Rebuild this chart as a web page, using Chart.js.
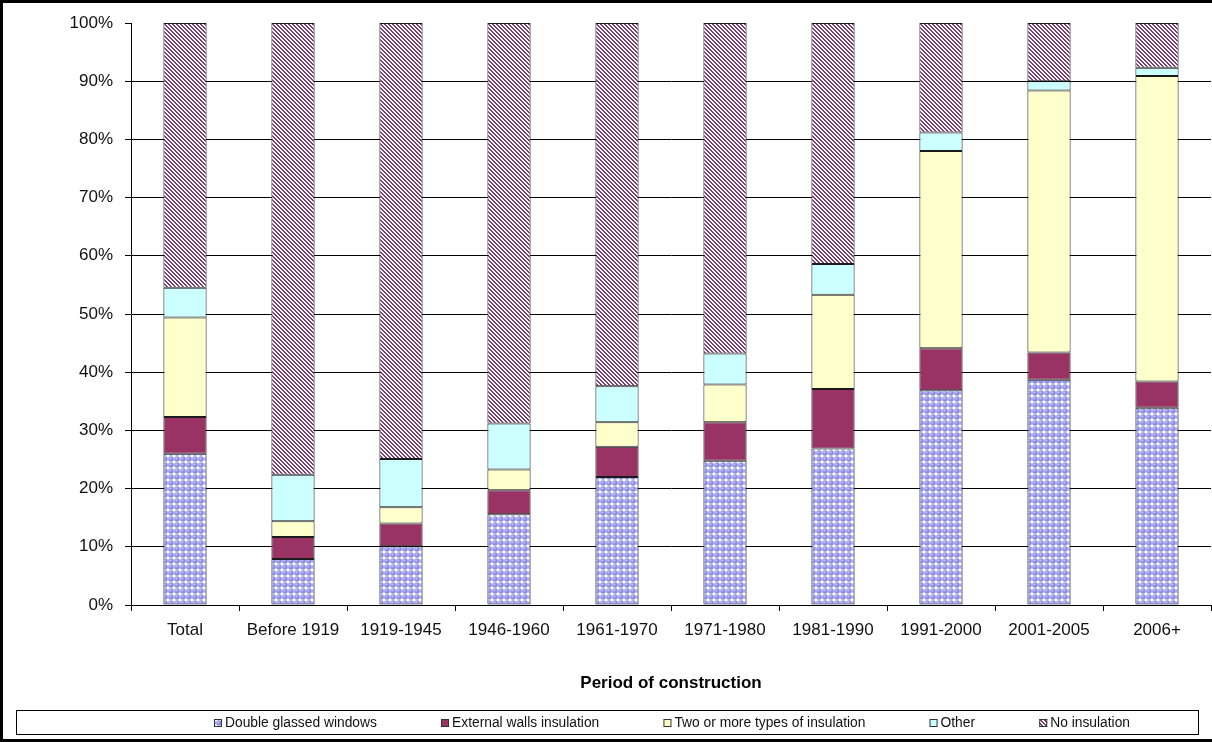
<!DOCTYPE html>
<html>
<head>
<meta charset="utf-8">
<script src="https://cdn.jsdelivr.net/npm/chart.js@4.4.1/dist/chart.umd.min.js"></script>
<style>
  html, body { margin: 0; padding: 0; background: #fff; }
  canvas { display: block; }
</style>
</head>
<body>
<canvas id="insulationChart" width="1212" height="742"></canvas>
<script>
// Period of construction vs. insulation type (% of dwellings)
const periods = ['Total', 'Before 1919', '1919-1945', '1946-1960', '1961-1970', '1971-1980', '1981-1990', '1991-2000', '2001-2005', '2006+'];
const doubleGlazed = [26.0, 7.9, 10.1, 15.6, 22.0, 24.8, 26.9, 36.9, 38.7, 33.9];
const externalWalls = [6.3, 3.8, 3.9, 4.1, 5.2, 6.6, 10.2, 7.2, 4.7, 4.5];
const twoOrMore = [17.1, 2.7, 2.8, 3.6, 4.2, 6.5, 16.2, 33.9, 45.0, 52.5];
const otherInsulation = [5.1, 8.0, 8.3, 7.9, 6.2, 5.3, 5.3, 3.2, 1.6, 1.4];
const noInsulation = [45.5, 77.6, 74.9, 68.8, 62.4, 56.8, 41.4, 18.8, 10.0, 7.7];
const seriesNames = ['Double glassed windows', 'External walls insulation', 'Two or more types of insulation', 'Other', 'No insulation'];

const canvas = document.getElementById('insulationChart');
const ctx = canvas.getContext('2d');
const FONT = '"Liberation Sans", Arial, sans-serif';

// Excel-like fill patterns
function dotPattern() {
    const c = document.createElement('canvas');
    c.width = 6; c.height = 6;
    const g = c.getContext('2d');
    g.fillStyle = '#ffffff';
    g.fillRect(0, 0, 6, 6);
    g.fillStyle = '#8c8ce6';
    g.beginPath(); g.arc(3, 3, 2.8, 0, Math.PI * 2); g.fill();
    g.fillStyle = '#c6c6fa';
    g.beginPath(); g.arc(2.3, 2.3, 1.1, 0, Math.PI * 2); g.fill();
    return ctx.createPattern(c, 'repeat');
}

function hatchPattern() {
    const c = document.createElement('canvas');
    c.width = 4; c.height = 4;
    const g = c.getContext('2d');
    g.fillStyle = '#ffffff';
    g.fillRect(0, 0, 4, 4);
    g.fillStyle = '#7c3c72';
    for (let i = 0; i < 4; i++) {
        g.fillRect(i, i, 1, 1);
        g.fillRect((i + 1) % 4, i, 1, 1);
    }
    return ctx.createPattern(c, 'repeat');
}

const fills = [dotPattern(), '#993366', '#ffffcc', '#ccffff', hatchPattern()];
const seriesValues = [doubleGlazed, externalWalls, twoOrMore, otherInsulation, noInsulation];

// outer frame + legend box drawn around the chart
const framePlugin = {
    id: 'frame',
    afterDraw(chart) {
        const c = chart.ctx;
        c.save();
        c.strokeStyle = '#000';
        c.lineWidth = 3;
        c.beginPath();
        c.moveTo(1.5, 742); c.lineTo(1.5, 1.5); c.lineTo(1212, 1.5);
        c.moveTo(0, 740.5); c.lineTo(1212, 740.5);
        c.stroke();

        // legend
        c.lineWidth = 1;
        c.strokeRect(16.5, 710.5, 1182, 24);
        c.font = '13.8px ' + FONT;
        c.textBaseline = 'middle';
        const items = chart.data.datasets.map(ds => ({ label: ds.label, fill: ds.backgroundColor, w: 12 + c.measureText(ds.label).width }));
        const total = items.reduce((s, it) => s + it.w, 0);
        const gap = (917 - total) / (items.length - 1);
        let x = 214;
        const yMid = 723;
        items.forEach(it => {
            c.fillStyle = it.fill;
            c.fillRect(x, yMid - 4, 8, 8);
            c.strokeStyle = '#333';
            c.strokeRect(x + 0.5, yMid - 3.5, 7, 7);
            c.fillStyle = '#111';
            c.fillText(it.label, x + 11, yMid);
            x += it.w + gap;
        });
        c.restore();
    }
};

new Chart(ctx, {
    type: 'bar',
    data: {
        labels: periods,
        datasets: seriesNames.map((name, i) => ({
            label: name,
            data: seriesValues[i],
            backgroundColor: fills[i],
            borderColor: '#1a1a1a',
            borderWidth: 1,
            borderSkipped: false,
            barPercentage: 0.4,
            categoryPercentage: 1.0
        }))
    },
    options: {
        responsive: false,
        animation: false,
        layout: { padding: { top: 23, left: 0, right: 1, bottom: 42 } },
        plugins: {
            legend: { display: false },
            tooltip: { enabled: false }
        },
        scales: {
            x: {
                stacked: true,
                grid: { drawOnChartArea: false, color: '#000', tickLength: 6 },
                border: { color: '#000', width: 1 },
                ticks: { color: '#111', font: { family: FONT, size: 17 }, padding: 9, maxRotation: 0 },
                title: {
                    display: true,
                    text: 'Period of construction',
                    color: '#000',
                    font: { family: FONT, size: 17, weight: 'bold' },
                    padding: { top: 0, bottom: 6 }
                },
                afterFit(scale) { scale.height = 95; }
            },
            y: {
                stacked: true,
                min: 0,
                max: 100,
                grid: {
                    color: c => (c.tick && (c.tick.value === 100 || c.tick.value === 0)) ? 'rgba(0,0,0,0)' : '#000',
                    tickColor: '#000',
                    tickLength: 6
                },
                border: { color: '#000', width: 1 },
                ticks: {
                    stepSize: 10,
                    color: '#111',
                    font: { family: FONT, size: 17 },
                    padding: 12,
                    callback: v => v + '%'
                },
                afterFit(scale) { scale.width = 131; }
            }
        }
    },
    plugins: [framePlugin]
});
</script>
</body>
</html>
